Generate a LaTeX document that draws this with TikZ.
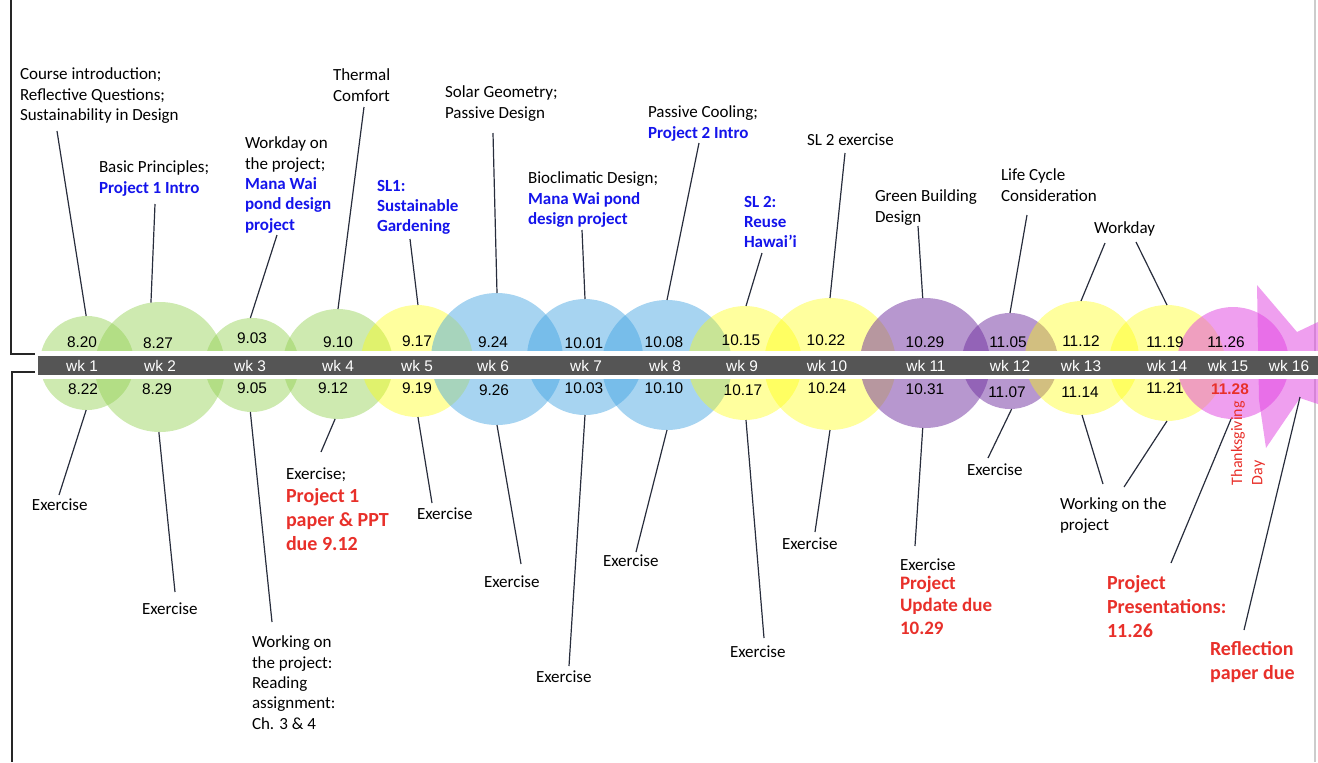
\documentclass[tikz,border=0pt]{standalone}
\usepackage{fontspec}
\setmainfont{Carlito}
\newfontfamily\datefont{Liberation Sans}

\definecolor{grn}{RGB}{146,208,80}
\definecolor{ylw}{RGB}{255,255,0}
\definecolor{blu}{RGB}{60,160,225}
\definecolor{prp}{RGB}{112,48,160}
\definecolor{mag}{RGB}{224,64,224}
\definecolor{bargray}{RGB}{85,85,85}
\definecolor{txtblue}{RGB}{20,20,235}
\definecolor{txtred}{RGB}{232,48,42}
\definecolor{linecol}{RGB}{40,45,60}

\newcommand{\blu}[1]{\textcolor{txtblue}{\bfseries #1}}

\tikzset{
  wkcircle/.style={circle, inner sep=0pt, outer sep=0pt, draw=none},
  lbl/.style={anchor=north west, inner sep=0pt, outer sep=0pt, align=left,
    font=\fontsize{8.5}{10.15}\selectfont},
  bluelbl/.style={lbl, text=txtblue, font=\fontsize{8.5}{10.15}\selectfont\bfseries},
  duelbl/.style={lbl, text=txtred, font=\fontsize{10}{12}\selectfont\bfseries},
  datelbl/.style={inner sep=0pt, font=\datefont\fontsize{7.7}{9}\selectfont},
  link/.style={draw=linecol, line width=0.6pt},
}

\begin{document}
\begin{tikzpicture}[x=0.5pt, y=-0.5pt]
\useasboundingbox (0,0) rectangle (1318,762);

% side brackets and right border
\draw[line width=0.65pt, black!85] (11,0) |- (35,354);
\draw[line width=0.65pt, black!85] (35,372) -| (12,762);
\draw[line width=0.6pt, black!20] (1315,0) -- (1315,762);

% week circles
\foreach \n/\x/\y/\r/\c/\o in {1/87/363/47/grn/0.45, 2/160/367/65/grn/0.45,
    3/252/365/47/grn/0.45, 4/338/364/55/grn/0.45, 5/417/361/56/ylw/0.38,
    6/497/359/66/blu/0.45, 7/585/357/58/blu/0.45, 8/667/365/65/blu/0.45,
    9/745/363/57/ylw/0.38, 10/830/364/66/ylw/0.38, 11/925/363/65/prp/0.5,
    12/1010/361/48/prp/0.5, 13/1082/358/57/ylw/0.38, 14/1167/363/58/ylw/0.38,
    15/1233/363/56/mag/0.5}
  \node[wkcircle, fill=\c, fill opacity=\o, minimum size=\r pt] (c\n) at (\x,\y) {};

% last week burst
\fill[mag, fill opacity=0.5] (1257,285) -- (1297,332) -- (1318,322) -- (1318,404)
  -- (1300,398) -- (1266,448) -- (1259,400) -- cycle;

% timeline bar
\fill[white] (36,351) rectangle (1318,379);
\fill[bargray] (38,356) rectangle (1318,375);

\foreach \n/\x in {1/82, 2/160, 3/250, 4/338, 5/417, 6/493, 7/586, 8/665,
    9/742, 10/827, 11/926, 12/1010, 13/1081, 14/1167, 15/1228, 16/1289}
  \node[datelbl, text=white] (wk\n) at (\x,366) {wk \n};

% dates
\foreach \d/\x/\y [count=\i] in {8.20/82/342, 8.27/158/343, 9.03/252/338,
    9.10/338/342, 9.17/417/341, 9.24/493/342, 10.01/584/343, 10.08/664/342,
    10.15/741/340, 10.22/826/340, 10.29/925/342, 11.05/1008/342, 11.12/1081/341,
    11.19/1165/342, 11.26/1226/342}
  \node[datelbl] (top\i) at (\x,\y) {\d};
\foreach \d/\x/\y [count=\i] in {8.22/83/389, 8.29/157/389, 9.05/252/388,
    9.12/333/388, 9.19/417/388, 9.26/494/390, 10.03/584/388, 10.10/664/388,
    10.17/743/390, 10.24/827/388, 10.31/925/389, 11.07/1007/392, 11.14/1080/392,
    11.21/1165/388}
  \node[datelbl] (bot\i) at (\x,\y) {\d};
\node[datelbl, text=txtred, font=\datefont\fontsize{7.7}{9}\selectfont\bfseries] (bot15) at (1230,389) {11.28};

% topics above
\node[lbl] (intro) at (20,68) {Course introduction;\\Reflective Questions;\\Sustainability in Design};
\node[lbl] (basics) at (99,161) {Basic Principles;\\\blu{Project 1 Intro}};
\node[lbl] (workday) at (245,137) {Workday on\\the project;\\\blu{Mana Wai}\\\blu{pond design}\\\blu{project}};
\node[lbl] (thermal) at (333,69) {Thermal\\Comfort};
\node[bluelbl] (slone) at (377,180) {SL1:\\Sustainable\\Gardening};
\node[lbl] (solar) at (445,86) {Solar Geometry;\\Passive Design};
\node[lbl] (bioclim) at (528,172) {Bioclimatic Design;\\\blu{Mana Wai pond}\\\blu{design project}};
\node[lbl] (cooling) at (648,106) {Passive Cooling;\\\blu{Project 2 Intro}};
\node[bluelbl] (sltwo) at (744,196) {SL 2:\\Reuse\\Hawai’i};
\node[lbl] (slex) at (807,134) {SL 2 exercise};
\node[lbl] (green) at (875,190) {Green Building\\Design};
\node[lbl] (cycle) at (1001,169) {Life Cycle\\Consideration};
\node[lbl] (wday) at (1094,222) {Workday};

% tasks below
\node[lbl] (ex1) at (32,499) {Exercise};
\node[lbl] (ex2) at (142,603) {Exercise};
\node[lbl] (reading) at (252,636) {Working on\\the project:\\Reading\\assignment:\\Ch. 3 \& 4};
\node[lbl] (ex4) at (286,468) {Exercise;};
\node[duelbl] (due4) at (286,488) {Project 1\\paper \& PPT\\due 9.12};
\node[lbl] (ex5) at (417,508) {Exercise};
\node[lbl] (ex6) at (484,576) {Exercise};
\node[lbl] (ex7) at (536,671) {Exercise};
\node[lbl] (ex8) at (603,555) {Exercise};
\node[lbl] (ex9) at (730,646) {Exercise};
\node[lbl] (ex10) at (782,538) {Exercise};
\node[lbl] (ex11) at (900,559) {Exercise};
\node[duelbl, font=\fontsize{9.5}{11.3}\selectfont\bfseries] (due11) at (900,576) {Project\\Update due\\10.29};
\node[lbl] (ex12) at (967,464) {Exercise};
\node[lbl] (working) at (1060,498) {Working on the\\project};
\node[lbl, text=txtred, rotate=90, font=\fontsize{8}{10.15}\selectfont] (thanks) at (1231,485) {Thanksgiving\\Day};
\node[duelbl] (present) at (1107,575) {Project\\Presentations:\\11.26};
\node[duelbl] (reflect) at (1210,641) {Reflection\\paper due};

% connectors
\foreach \x/\y/\t [count=\i] in {57/131/c1.91, 155/204/c2.98, 277/235/c3.92,
    364/107/c4.90, 410/239/c5.89, 493/133/c6.90, 582/230/c7.90, 699/143/c8.90,
    762/253/c9.89, 845/153/c10.90, 918/226/c11.92, 1027/215/c12.90,
    1105/243/c13.91, 1136/242/c14.90,
    59/495/c1.269, 175/592/c2.269, 272/622/c3.268, 321/452/c4.267,
    432/503/c5.271, 521/564/c6.270, 569/666/c7.270, 636/552/c8.270,
    764/638/c9.271, 815/532/c10.270, 915/546/c11.268, 988/458/c12.272,
    1103/484/c13.270, 1124/487/c14.270, 1171/563/c15.268}
{
  \coordinate (u\i) at (\x,\y);
  \draw[link] (u\i) -- (\t);
}
\coordinate (burst) at (1300,397);
\coordinate (refl) at (1244,630);
\draw[link] (refl) -- (burst);
\end{tikzpicture}
\end{document}
